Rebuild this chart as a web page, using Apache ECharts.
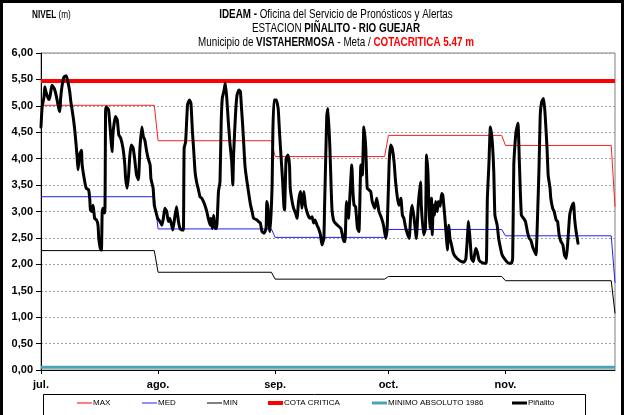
<!DOCTYPE html>
<html>
<head>
<meta charset="utf-8">
<script src="https://cdn.jsdelivr.net/npm/echarts@6/dist/echarts.min.js"></script>
<style>
  html, body { margin: 0; padding: 0; background: #fff; }
  #chart { width: 627px; height: 415px; }
</style>
</head>
<body>
<div id="chart"></div>
<script>
// Día (0 = 1 de julio) y etiquetas de mes del eje X
const mesEtiquetas = ['jul.', 'ago.', 'sep.', 'oct.', 'nov.'];
const mesInicio = [0, 31, 62, 92, 123];
const ultimoDia = 152;

// Niveles históricos mensuales (m) y valor del último día
const maxMes = [5.01, 4.34, 4.04, 4.44, 4.25];
const maxUltimo = 3.09;
const medMes = [3.28, 2.67, 2.51, 2.66, 2.54];
const medUltimo = 1.65;
const minMes = [2.26, 1.85, 1.72, 1.77, 1.69];
const minUltimo = 1.07;

const cotaCritica = 5.47;
const minimoAbsoluto = 0.05;

// Registro de la estación Piñalito: día (fraccional) y nivel (m)
const pinalitoDia = [
  0.0, 0.3, 0.8, 1.0, 1.3, 1.9, 2.2, 2.6, 2.9, 3.5, 4.1, 4.7, 5.0, 5.2, 5.6, 6.1, 6.7, 7.2, 7.6, 7.9,
  8.5, 8.9, 9.3, 9.6, 9.8, 10.2, 10.7, 10.9, 11.6, 12.0, 12.6, 12.9, 13.1, 13.5, 13.8, 14.2, 14.7, 15.1, 15.3, 15.7,
  16.0, 16.2, 16.4, 16.9, 17.1, 17.3, 17.9, 18.5, 18.8, 19.1, 19.7, 20.2, 20.6, 21.1, 21.7, 22.2, 22.4, 22.8, 23.2, 23.5,
  23.9, 24.4, 24.8, 25.3, 25.8, 26.2, 26.7, 27.1, 27.5, 28.0, 28.4, 28.9, 29.1, 29.5, 29.7, 30.0, 30.4, 30.9, 31.5, 32.0,
  32.4, 32.8, 33.3, 33.7, 34.1, 34.6, 34.9, 35.5, 35.9, 36.4, 36.8, 37.3, 37.7, 37.9, 38.3, 38.8, 39.3, 39.7, 40.1, 40.4,
  40.8, 41.2, 41.7, 42.1, 42.6, 43.0, 43.4, 43.9, 44.3, 44.8, 45.0, 45.4, 45.7, 46.1, 46.5, 47.0, 47.4, 47.7, 48.0, 48.5,
  48.8, 49.2, 49.6, 50.0, 50.5, 50.8, 51.0, 51.5, 51.9, 52.4, 52.8, 53.1, 53.4, 53.7, 54.0, 54.3, 54.8, 55.2, 55.5, 55.9,
  56.3, 57.2, 57.6, 58.1, 58.5, 59.1, 59.6, 59.8, 60.1, 60.5, 60.7, 61.2, 61.4, 61.7, 62.3, 62.8, 63.2, 63.6, 64.0, 64.3,
  64.5, 64.9, 65.4, 65.8, 66.0, 66.5, 66.9, 67.4, 67.8, 68.2, 68.7, 69.1, 69.6, 70.0, 70.4, 70.9, 71.3, 71.8, 72.2, 72.6,
  73.1, 73.5, 74.0, 74.4, 74.9, 75.1, 75.5, 75.7, 76.0, 76.5, 76.9, 77.1, 77.6, 78.5, 79.4, 79.8, 80.2, 80.5, 80.9, 81.4,
  82.3, 82.6, 82.9, 83.3, 83.8, 84.2, 84.7, 85.1, 85.5, 86.0, 86.4, 87.3, 87.7, 88.4, 88.9, 89.5, 90.2, 90.7, 91.3, 91.7,
  92.2, 92.6, 93.0, 93.5, 93.9, 94.4, 94.8, 95.3, 95.7, 96.1, 96.6, 97.5, 97.9, 98.3, 98.8, 99.4, 99.9, 100.5, 100.7, 101.3,
  101.8, 102.1, 102.5, 102.7, 103.0, 103.4, 103.6, 103.9, 104.2, 104.5, 104.9, 105.2, 105.7, 106.1, 106.4, 106.9, 107.3, 107.6, 108.0, 108.3,
  108.7, 109.2, 109.8, 110.7, 111.4, 112.0, 112.5, 112.9, 113.2, 113.6, 114.0, 114.5, 115.1, 115.5, 116.0, 116.4, 117.3, 117.9, 118.2, 118.6,
  119.0, 119.5, 119.9, 120.2, 120.8, 121.2, 121.7, 122.1, 123.0, 123.9, 124.6, 124.9, 125.2, 125.5, 125.8, 126.3, 126.7, 127.2, 127.8, 128.3,
  128.8, 129.3, 129.7, 130.2, 130.9, 131.1, 131.5, 131.9, 132.2, 132.6, 133.1, 133.5, 134.0, 134.3, 134.8, 135.0, 135.5, 135.9, 136.4, 136.8,
  137.2, 137.7, 138.2, 138.6, 139.1, 139.5, 140.0, 140.4, 141.0, 141.3, 141.7, 142.2
];
const pinalitoNivel = [
  4.60, 4.98, 5.17, 5.36, 5.27, 5.14, 5.12, 5.27, 5.39, 5.33, 5.17, 4.95, 4.89, 5.14, 5.39, 5.55, 5.57, 5.43, 5.27, 5.08,
  4.80, 4.57, 4.26, 4.00, 3.79, 4.07, 4.16, 3.88, 3.56, 3.44, 3.41, 3.25, 3.03, 3.00, 3.12, 2.87, 2.84, 2.74, 2.49, 2.30,
  2.27, 3.00, 3.06, 2.97, 4.89, 4.98, 4.92, 4.39, 4.13, 4.51, 4.80, 4.73, 4.45, 4.39, 4.20, 3.88, 3.63, 3.44, 3.69, 4.04,
  4.26, 4.20, 4.00, 3.69, 3.60, 4.20, 4.60, 4.42, 4.35, 4.13, 4.00, 3.88, 3.63, 3.50, 3.44, 3.12, 3.00, 2.87, 2.81, 2.74,
  2.87, 3.06, 3.00, 2.81, 2.87, 2.74, 2.65, 2.93, 3.09, 2.81, 2.68, 2.65, 2.65, 4.20, 4.32, 5.02, 5.11, 5.05, 4.51, 4.20,
  3.75, 3.56, 3.41, 3.28, 3.25, 3.19, 3.12, 3.00, 2.87, 2.74, 2.87, 2.68, 2.93, 2.68, 2.68, 3.38, 3.56, 4.64, 5.14, 5.30,
  5.43, 5.14, 4.70, 4.32, 3.94, 3.50, 4.07, 4.83, 5.20, 5.30, 5.27, 4.95, 4.64, 4.26, 3.88, 3.69, 3.44, 3.25, 3.12, 3.00,
  2.87, 2.84, 2.81, 2.78, 2.62, 2.59, 2.68, 3.19, 3.06, 2.68, 2.62, 3.50, 4.51, 5.11, 5.11, 4.95, 4.45, 4.00, 3.56, 3.12,
  3.03, 4.00, 4.07, 3.88, 3.44, 3.19, 3.06, 2.97, 2.87, 3.19, 3.38, 3.06, 3.38, 3.12, 3.00, 2.90, 2.87, 2.90, 2.78, 2.84,
  2.74, 2.68, 2.56, 2.37, 2.49, 3.12, 4.32, 4.83, 4.95, 4.20, 3.31, 3.00, 2.81, 2.74, 2.68, 2.56, 2.43, 2.43, 3.19, 2.87,
  3.88, 3.38, 3.12, 3.09, 2.68, 2.62, 3.88, 3.69, 4.60, 4.20, 3.44, 3.38, 3.19, 3.06, 3.25, 3.00, 2.87, 2.74, 2.49, 2.74,
  3.94, 4.26, 4.20, 3.94, 3.56, 3.25, 3.12, 3.25, 2.93, 2.87, 2.68, 2.49, 2.93, 3.12, 2.87, 2.49, 3.12, 3.56, 3.12, 2.56,
  2.68, 4.07, 3.69, 3.12, 2.68, 3.25, 2.56, 3.12, 2.93, 3.19, 3.00, 3.19, 3.10, 3.34, 3.31, 2.93, 2.56, 2.27, 2.74, 2.49,
  2.37, 2.21, 2.14, 2.08, 2.05, 2.04, 2.10, 2.49, 2.81, 2.49, 2.11, 2.05, 2.30, 2.24, 2.08, 2.05, 2.02, 2.02, 3.25, 3.88,
  4.60, 4.32, 3.75, 2.93, 2.74, 2.49, 2.30, 2.18, 2.08, 2.02, 2.02, 2.11, 3.88, 4.26, 4.51, 4.67, 3.88, 2.93, 2.87, 2.81,
  2.62, 2.49, 2.46, 2.33, 2.21, 2.18, 2.93, 3.88, 4.83, 5.08, 5.14, 4.83, 4.20, 3.69, 3.44, 3.25, 3.06, 3.00, 2.84, 2.81,
  2.56, 2.43, 2.37, 2.18, 2.11, 2.43, 2.93, 3.06, 3.16, 2.87, 2.62, 2.40
];

// Serie escalonada: un valor por mes, más el último día
function escalones(valores, ultimo) {
  const pts = [];
  valores.forEach((v, i) => {
    const fin = i + 1 < mesInicio.length ? mesInicio[i + 1] - 1 : ultimoDia - 1;
    pts.push([mesInicio[i], v], [fin, v]);
  });
  pts.push([ultimoDia, ultimo]);
  return pts;
}

const serieNivel = pinalitoDia.map((d, i) => [d, pinalitoNivel[i]]);

const sans = "'Liberation Sans', Arial, sans-serif";
// Texto angosto: fuente sans comprimida horizontalmente
const angosto = 0.82;

const chart = echarts.init(document.getElementById('chart'), null, { renderer: 'canvas' });

const etiquetaLeyenda = { fontFamily: sans, fontSize: 8, color: '#000', padding: [0, 0, 0, -4] };
function leyenda(nombre, x, alto) {
  return {
    data: [nombre], left: x, top: 399, itemWidth: 15, itemHeight: alto,
    icon: 'rect', selectedMode: false, padding: 0, textStyle: etiquetaLeyenda
  };
}

function textoTitulo(texto, y, rich) {
  return {
    type: 'text', x: 336, y: y, scaleX: angosto,
    style: { text: texto, textAlign: 'center', textVerticalAlign: 'middle',
      fontFamily: sans, fontSize: 12, fill: '#000', rich: rich }
  };
}
const negrita = { fontFamily: sans, fontSize: 12, fontWeight: 'bold' };

chart.setOption({
  animation: false,
  backgroundColor: '#fff',
  grid: { left: 41, right: 12, top: 53, bottom: 45, show: true, borderColor: '#808080', borderWidth: 1 },
  legend: [
    leyenda('MAX', 77, 1),
    leyenda('MED', 142, 1),
    leyenda('MIN', 207, 1),
    leyenda('COTA CRITICA', 268, 4),
    leyenda('MINIMO ABSOLUTO 1986', 372, 3),
    leyenda('Piñalito', 512, 3)
  ],
  xAxis: {
    type: 'value', min: 0, max: ultimoDia,
    axisLine: { show: true, lineStyle: { color: '#000', width: 1 } },
    axisTick: { show: true, customValues: mesInicio, length: 4, inside: false, lineStyle: { color: '#000' } },
    axisLabel: {
      customValues: mesInicio, margin: 9,
      fontFamily: sans, fontWeight: 'bold', fontSize: 11, color: '#000',
      formatter: v => mesEtiquetas[mesInicio.indexOf(v)] || ''
    },
    splitLine: { show: false }
  },
  yAxis: {
    type: 'value', min: 0, max: 6, interval: 0.5,
    axisLine: { show: true, lineStyle: { color: '#000', width: 1 } },
    axisTick: { show: true, length: 5, lineStyle: { color: '#000' } },
    axisLabel: {
      margin: 8, fontFamily: sans, fontWeight: 'bold', fontSize: 11, color: '#000',
      formatter: v => v.toFixed(2).replace('.', ',')
    },
    splitLine: { show: true, lineStyle: { color: '#a0a0a0', type: [2, 2], width: 1 } }
  },
  series: [
    { name: 'MAX', type: 'line', data: escalones(maxMes, maxUltimo), symbol: 'none',
      color: '#ff0000', lineStyle: { width: 1, color: '#ff2020' }, z: 3 },
    { name: 'MED', type: 'line', data: escalones(medMes, medUltimo), symbol: 'none',
      color: '#2020ff', lineStyle: { width: 1, color: '#2020ff' }, z: 3 },
    { name: 'MIN', type: 'line', data: escalones(minMes, minUltimo), symbol: 'none',
      color: '#000', lineStyle: { width: 1, color: '#000' }, z: 3 },
    { name: 'COTA CRITICA', type: 'line', data: [[0, cotaCritica], [ultimoDia, cotaCritica]], symbol: 'none',
      color: '#ff0000', lineStyle: { width: 4, color: '#ff0000' }, z: 4 },
    { name: 'MINIMO ABSOLUTO 1986', type: 'line', data: [[0, minimoAbsoluto], [ultimoDia, minimoAbsoluto]], symbol: 'none',
      color: '#4ba3b8', lineStyle: { width: 3, color: '#4ba3b8' }, z: 4 },
    { name: 'Piñalito', type: 'line', data: serieNivel, symbol: 'none', smooth: 0.15,
      color: '#000', lineStyle: { width: 3, color: '#000', join: 'round', cap: 'round' }, z: 5 }
  ],
  graphic: [
    { type: 'rect', silent: true, z: -1,
      shape: { x: 1.5, y: 1.5, width: 621, height: 430 },
      style: { fill: null, stroke: '#000', lineWidth: 3 } },
    { type: 'rect', silent: true,
      shape: { x: 43.5, y: 394.5, width: 542, height: 40 },
      style: { fill: null, stroke: '#000', lineWidth: 1 } },
    { type: 'text', x: 32, y: 15, scaleX: angosto,
      style: { text: '{b|NIVEL} (m)', textVerticalAlign: 'middle', fontFamily: sans, fontSize: 10, fill: '#000',
        rich: { b: { fontFamily: sans, fontSize: 10, fontWeight: 'bold' } } } },
    textoTitulo('{b|IDEAM -} Oficina del Servicio de Pronósticos y Alertas', 15, { b: negrita }),
    textoTitulo('ESTACION {b|PIÑALITO - RIO GUEJAR}', 29, { b: negrita }),
    textoTitulo('Municipio de {b|VISTAHERMOSA} - Meta / {r|COTACRITICA 5.47 m}', 43, {
      b: negrita,
      r: { fontFamily: sans, fontSize: 12, fontWeight: 'bold', fill: '#ff0000', color: '#ff0000' }
    })
  ]
});
</script>
</body>
</html>
